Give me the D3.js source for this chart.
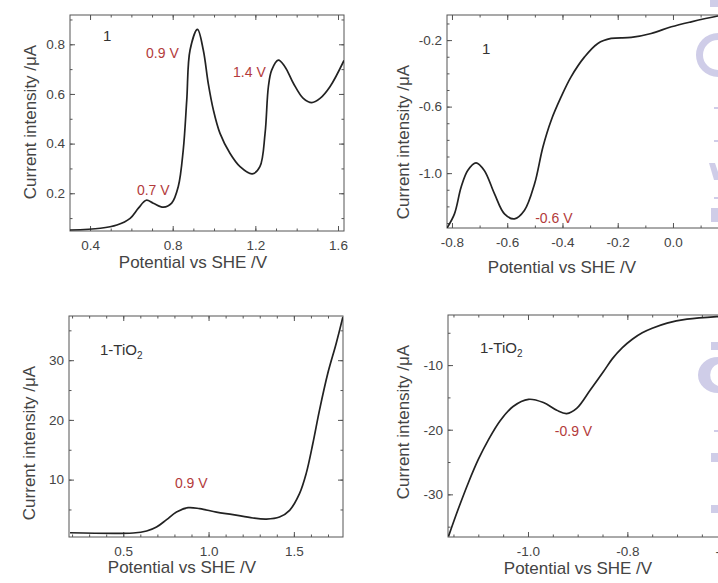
<!DOCTYPE html>
<html>
<head>
<meta charset="utf-8">
<style>
  body { margin: 0; background: #fff; }
  svg { display: block; font-family: "Liberation Sans", Arial, sans-serif; }
  .frame { fill: none; stroke: #555; stroke-width: 1; }
  .tick line { stroke: #555; }
  .tick text { fill: #444; font-size: 13.5px; }
  .domain { display: none; }
  .curve { fill: none; stroke: #222; stroke-width: 1.7; }
  .title { fill: #444; font-size: 17px; }
  .tag { fill: #333; font-size: 15px; }
  .peak { fill: #b33b3b; font-size: 14px; }
  .wm { fill: #cfcde8; }
</style>
</head>
<body>
<script src="https://cdn.jsdelivr.net/npm/d3@7"></script>
<script>

// curves: [potential V, current uA]
var curve1 = [[0.303,0.052],[0.45,0.059],[0.53,0.072],[0.594,0.099],[0.634,0.14],[0.672,0.172],
  [0.706,0.16],[0.755,0.144],[0.795,0.16],[0.827,0.227],[0.851,0.374],[0.868,0.575],[0.884,0.777],
  [0.92,0.86],[0.948,0.777],[0.972,0.643],[0.997,0.535],[1.029,0.441],[1.077,0.361],[1.126,0.307],
  [1.185,0.278],[1.222,0.307],[1.247,0.441],[1.263,0.629],[1.279,0.696],[1.311,0.736],[1.343,0.71],
  [1.384,0.643],[1.432,0.582],[1.473,0.565],[1.513,0.582],[1.561,0.629],[1.629,0.735]];

var curve2 = [[-0.818,-1.33],[-0.791,-1.245],[-0.767,-1.085],[-0.743,-0.984],[-0.713,-0.938],
  [-0.683,-0.984],[-0.646,-1.125],[-0.61,-1.245],[-0.574,-1.275],[-0.538,-1.225],[-0.501,-1.064],
  [-0.471,-0.844],[-0.441,-0.683],[-0.405,-0.542],[-0.369,-0.421],[-0.32,-0.301],[-0.272,-0.22],
  [-0.224,-0.19],[-0.151,-0.184],[-0.079,-0.16],[-0.006,-0.12],[0.066,-0.09],[0.163,-0.055],[0.25,-0.03]];

var curve3 = [[0.188,1.1],[0.558,1.06],[0.637,1.39],[0.695,2.06],[0.754,3.3],[0.812,4.57],[0.88,5.3],
  [0.948,5.14],[1.046,4.57],[1.143,4.14],[1.26,3.57],[1.339,3.4],[1.416,3.74],[1.475,4.86],[1.533,7.65],
  [1.572,11.0],[1.611,16.0],[1.65,21.6],[1.699,27.8],[1.748,32.8],[1.787,37.2]];

var curve4 = [[-1.16,-36.5],[-1.14,-32.2],[-1.12,-28.2],[-1.1,-24.6],[-1.08,-21.6],[-1.056,-18.6],
  [-1.03,-16.4],[-0.999,-15.3],[-0.969,-15.8],[-0.942,-17.0],[-0.922,-17.5],[-0.902,-16.7],[-0.875,-13.9],
  [-0.848,-11.0],[-0.83,-9.0],[-0.81,-7.3],[-0.79,-6.0],[-0.77,-5.0],[-0.75,-4.3],[-0.72,-3.5],
  [-0.68,-2.9],[-0.62,-2.5],[-0.55,-2.3]];

// tick values
var xMajor1 = [0.4, 0.8, 1.2, 1.6], yMajor1 = [0.2, 0.4, 0.6, 0.8];
var xMajor2 = [-0.8, -0.6, -0.4, -0.2, 0.0], yMajor2 = [-0.2, -0.6, -1.0];
var xMajor3 = [0.5, 1.0, 1.5], yMajor3 = [10, 20, 30];
var xMajor4 = [-1.0, -0.8, -0.6], yMajor4 = [-10, -20, -30];

// peak annotations (text start, baseline in data units)
var peaks1 = [{t:"0.7 V", v:0.627, i:0.192}, {t:"0.9 V", v:0.671, i:0.744}, {t:"1.4 V", v:1.092, i:0.667}];
var peaks2 = [{t:"-0.6 V", v:-0.499, i:-1.3}];
var peaks3 = [{t:"0.9 V", v:0.803, i:8.6}];
var peaks4 = [{t:"-0.9 V", v:-0.946, i:-20.9}];

var W = 718, H = 583;
var svg = d3.select("body").append("svg").attr("width", W).attr("height", H);

var panels = [
  {data:curve1, xd:[0.303,1.629], yd:[0.048,0.918], xr:[70,344], yr:[231,15],
   xM:xMajor1, xm:0.1, yM:yMajor1, ym:0.1, xf:".1f", yf:".1f", tag:"1", tagPos:[103,41], peaks:peaks1,
   ytx:36, yty:122, yts:17, xtx:193, xty:268},
  {data:curve2, xd:[-0.818,0.315], yd:[-1.33,-0.049], xr:[447,760], yr:[228,15],
   xM:xMajor2, xm:0.1, yM:yMajor2, ym:0.1, xf:".1f", yf:".1f", tag:"1", tagPos:[482,54], peaks:peaks2,
   ytx:409, yty:142, yts:17, xtx:562, xty:273},
  {data:curve3, xd:[0.182,1.788], yd:[0.39,37.4], xr:[69,343], yr:[537,316],
   xM:xMajor3, xm:0.1, yM:yMajor3, ym:5, xf:".1f", yf:"d", tag:"1-TiO", tagPos:[100,355], peaks:peaks3,
   ytx:35, yty:443, yts:15, xtx:182, xty:573},
  {data:curve4, xd:[-1.161,-0.533], yd:[-36.6,-2.25], xr:[448,760], yr:[537,315],
   xM:xMajor4, xm:0.05, yM:yMajor4, ym:5, xf:".1f", yf:"d", tag:"1-TiO", tagPos:[480,353], peaks:peaks4,
   ytx:409, yty:422, yts:17, xtx:578, xty:574}
];

function minorTicks(dom, step) {
  var lo = Math.min(dom[0], dom[1]), hi = Math.max(dom[0], dom[1]);
  var out = [];
  for (var k = Math.ceil(lo / step - 1e-6); k * step <= hi + 1e-9; k++) out.push(+(k * step).toFixed(4));
  return out;
}

panels.forEach(function(p, idx) {
  var x = d3.scaleLinear().domain(p.xd).range(p.xr);
  var y = d3.scaleLinear().domain(p.yd).range(p.yr);
  var g = svg.append("g");
  var x0 = p.xr[0], x1 = p.xr[1], yb = p.yr[0], yt = p.yr[1];

  var xMinor = minorTicks(p.xd, p.xm), yMinor = minorTicks(p.yd, p.ym);
  var fmtX = d3.format(p.xf), fmtY = d3.format(p.yf);

  // major ticks with labels (bottom, left), inward
  g.append("g").attr("transform", "translate(0," + yb + ")")
    .call(d3.axisBottom(x).tickValues(p.xM).tickSize(-5).tickPadding(9).tickFormat(fmtX));
  g.append("g").attr("transform", "translate(" + x0 + ",0)")
    .call(d3.axisLeft(y).tickValues(p.yM).tickSize(-5).tickPadding(5).tickFormat(fmtY));
  // mirrored majors
  g.append("g").attr("transform", "translate(0," + yt + ")")
    .call(d3.axisTop(x).tickValues(p.xM).tickSize(-5).tickFormat(""));
  g.append("g").attr("transform", "translate(" + x1 + ",0)")
    .call(d3.axisRight(y).tickValues(p.yM).tickSize(-5).tickFormat(""));
  // minor ticks
  g.append("g").attr("transform", "translate(0," + yb + ")")
    .call(d3.axisBottom(x).tickValues(xMinor).tickSize(-2.5).tickFormat(""));
  g.append("g").attr("transform", "translate(0," + yt + ")")
    .call(d3.axisTop(x).tickValues(xMinor).tickSize(-2.5).tickFormat(""));
  g.append("g").attr("transform", "translate(" + x0 + ",0)")
    .call(d3.axisLeft(y).tickValues(yMinor).tickSize(-2.5).tickFormat(""));
  g.append("g").attr("transform", "translate(" + x1 + ",0)")
    .call(d3.axisRight(y).tickValues(yMinor).tickSize(-2.5).tickFormat(""));

  g.selectAll(".tick text").text(function() {
    return this.textContent.replace("\u2212", "-");
  });

  g.append("rect").attr("class", "frame")
    .attr("x", x0).attr("y", yt).attr("width", x1 - x0).attr("height", yb - yt);

  var clipId = "clip" + idx;
  g.append("clipPath").attr("id", clipId).append("rect")
    .attr("x", x0).attr("y", yt).attr("width", x1 - x0).attr("height", yb - yt);

  var line = d3.line().x(function(d){ return x(d[0]); }).y(function(d){ return y(d[1]); })
    .curve(d3.curveCatmullRom.alpha(0.5));
  g.append("path").attr("class", "curve").attr("clip-path", "url(#" + clipId + ")")
    .attr("d", line(p.data));

  // sample tag
  var tag = g.append("text").attr("class", "tag").attr("x", p.tagPos[0]).attr("y", p.tagPos[1]).text(p.tag);
  if (p.tag !== "1") tag.append("tspan").attr("dy", 4).attr("font-size", "10px").text("2");

  g.selectAll(".peak").data(p.peaks).enter().append("text").attr("class", "peak")
    .attr("x", function(d){ return x(d.v); }).attr("y", function(d){ return y(d.i); })
    .text(function(d){ return d.t; });

  g.append("text").attr("class", "title").attr("text-anchor", "middle")
    .attr("font-size", p.yts + "px")
    .attr("transform", "translate(" + p.ytx + "," + p.yty + ") rotate(-90)")
    .text("Current intensity /\u03bcA");
  g.append("text").attr("class", "title").attr("text-anchor", "middle")
    .attr("x", p.xtx).attr("y", p.xty).text("Potential vs SHE /V");
});

// faint publisher watermark at the right edge
var wmRects = [[710,0,8,7],[711,208,7,14],[711,342,7,8],[711,453,7,9],[711,505,7,8],[714,107,4,2],[714,140,4,2],[714,197,4,2],[714,430,4,2]];
svg.selectAll(".wmr").data(wmRects).enter().append("rect").attr("class", "wm")
  .attr("x", function(d){ return d[0]; }).attr("y", function(d){ return d[1]; })
  .attr("width", function(d){ return d[2]; }).attr("height", function(d){ return d[3]; });
svg.append("path").attr("class", "wm").attr("d", "M718,33 A22,22 0 0 0 718,77 L718,70 A15,15 0 0 1 718,40 Z");
svg.append("path").attr("class", "wm").attr("d", "M718,357 A20,18 0 0 0 718,393 L718,386 A13,12 0 0 1 718,364 Z");
svg.append("path").attr("class", "wm").attr("d", "M709,163 L715,163 L718,172 L718,180 L714,180 Z");

</script>
</body>
</html>
